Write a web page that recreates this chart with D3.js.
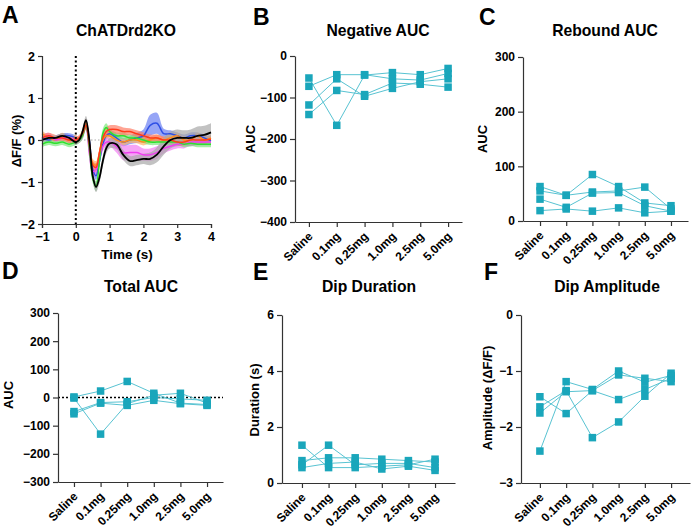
<!DOCTYPE html>
<html><head><meta charset="utf-8">
<script src="https://cdn.jsdelivr.net/npm/d3@7"></script>
<style>
body{margin:0;background:#fff;}
text{font-family:"Liberation Sans",Arial,sans-serif;font-weight:bold;fill:#000;}
</style></head>
<body><svg id="c" width="692" height="532"></svg>
<script>
// ---------- DATA ----------
const categories = ["Saline","0.1mg","0.25mg","1.0mg","2.5mg","5.0mg"];
// each inner array = one animal across doses
const negativeAUC = [
  [-53,-167,-46,-40,-45,-30],
  [-73,-45,-45,-55,-58,-42],
  [-118,-55,-97,-78,-62,-55],
  [-141,-83,-93,-65,-68,-75]
];
const reboundAUC = [
  [63,47,85,63,33,28],
  [55,47,53,55,62,22],
  [40,25,51,52,28,18],
  [19,22,18,24,15,18]
];
const totalAUC = [
  [-2,-130,-22,8,15,-20],
  [2,23,57,15,-20,-25],
  [-50,-18,-15,0,-5,-10],
  [-58,-20,-28,-10,-22,-28]
];
const dipDuration = [
  [1.35,0.55,0.55,0.6,0.65,0.85],
  [0.65,1.35,0.65,0.7,0.7,0.55],
  [0.8,0.9,0.9,0.85,0.8,0.75],
  [0.55,0.7,0.75,0.5,0.6,0.45]
];
const dipAmplitude = [
  [-2.43,-1.19,-1.33,-1.0,-1.2,-1.08],
  [-1.46,-1.76,-1.35,-1.51,-1.33,-1.13],
  [-1.64,-1.35,-2.19,-1.91,-1.45,-1.04],
  [-1.75,-1.37,-1.35,-1.07,-1.13,-1.19]
];
const yTicksNeg = [0,-100,-200,-300,-400];
const yTicksReb = [0,100,200,300];
const yTicksTot = [-300,-200,-100,0,100,200,300];
const yTicksDur = [0,2,4,6];
const yTicksAmp = [-3,-2,-1,0];

// Panel A photometry traces
const time = [-1,-0.8,-0.6,-0.4,-0.2,0,0.1,0.2,0.3,0.4,0.5,0.6,0.7,0.8,0.9,1.0,1.2,1.4,1.6,1.8,2.0,2.2,2.4,2.6,2.8,3.0,3.2,3.4,3.6,3.8,4.0];
const traceBlue    = [0.05,0.0,0.05,0.1,0.1,0.05,0.0,0.15,0.4,0.0,-0.7,-0.85,-0.5,-0.1,0.1,0.15,0.05,-0.05,0.0,0.05,0.1,0.35,0.4,0.15,0.15,0.1,0.05,0.1,0.1,0.05,-0.02];
const semBlue      = [0.06,0.06,0.06,0.06,0.06,0.06,0.06,0.08,0.1,0.1,0.1,0.1,0.1,0.1,0.08,0.08,0.1,0.1,0.1,0.12,0.15,0.25,0.25,0.12,0.08,0.08,0.08,0.08,0.08,0.08,0.08];
const traceRed     = [0.05,0.1,0.05,0.05,0.0,0.0,0.05,0.15,0.35,-0.1,-0.6,-0.65,-0.3,0.05,0.2,0.25,0.25,0.2,0.2,0.15,0.1,0.05,0.05,0.0,0.0,-0.05,-0.05,0.0,0.0,0.0,0.02];
const semRed       = [0.07,0.07,0.07,0.07,0.07,0.07,0.07,0.08,0.1,0.1,0.1,0.1,0.1,0.1,0.1,0.1,0.1,0.1,0.08,0.08,0.08,0.08,0.08,0.08,0.08,0.08,0.08,0.08,0.08,0.08,0.08];
const traceGreen   = [-0.1,-0.05,-0.08,-0.05,-0.1,-0.05,0.0,0.1,0.35,-0.2,-0.9,-1.1,-0.5,0.15,0.3,0.2,0.1,0.1,0.05,0.05,0.0,-0.05,-0.05,-0.05,-0.05,-0.05,-0.1,-0.08,-0.1,-0.1,-0.1];
const semGreen     = [0.07,0.07,0.07,0.07,0.07,0.07,0.07,0.08,0.1,0.12,0.12,0.12,0.12,0.12,0.1,0.08,0.08,0.08,0.08,0.07,0.07,0.07,0.07,0.07,0.07,0.07,0.07,0.07,0.07,0.07,0.07];
const traceMagenta = [0.05,0.1,0.0,0.05,0.05,0.0,0.0,0.1,0.35,-0.3,-0.75,-0.7,-0.4,-0.15,-0.05,-0.05,-0.15,-0.3,-0.3,-0.3,-0.35,-0.35,-0.3,-0.2,-0.15,-0.1,-0.1,-0.05,-0.05,-0.05,-0.05];
const semMagenta   = [0.07,0.07,0.07,0.07,0.07,0.07,0.07,0.08,0.1,0.12,0.12,0.12,0.12,0.12,0.1,0.1,0.15,0.18,0.18,0.18,0.15,0.15,0.15,0.12,0.1,0.1,0.1,0.08,0.08,0.08,0.08];
const traceOrange  = [0.15,0.05,0.0,0.1,0.0,0.05,0.0,0.2,0.4,-0.1,-0.55,-0.6,-0.3,0.0,0.1,0.1,0.0,-0.05,0.0,0.0,-0.05,0.0,0.05,0.0,0.05,0.1,0.0,0.0,0.1,0.0,0.05];
const semOrange    = [0.07,0.07,0.07,0.07,0.07,0.07,0.07,0.08,0.1,0.1,0.1,0.1,0.1,0.1,0.08,0.08,0.08,0.08,0.08,0.08,0.08,0.08,0.08,0.08,0.08,0.08,0.08,0.08,0.08,0.08,0.08];
const traceBlack   = [0.0,0.05,0.05,0.1,0.05,-0.05,0.0,0.2,0.47,0.0,-0.85,-1.12,-0.9,-0.5,-0.2,-0.08,-0.1,-0.35,-0.5,-0.48,-0.45,-0.45,-0.35,-0.15,0.0,0.05,0.05,0.05,0.1,0.12,0.18];
const semBlack     = [0.06,0.06,0.06,0.06,0.06,0.06,0.06,0.08,0.1,0.12,0.12,0.12,0.12,0.12,0.12,0.12,0.12,0.12,0.12,0.12,0.12,0.15,0.18,0.2,0.2,0.2,0.18,0.2,0.22,0.22,0.22];
const timeTicks = [-1,0,1,2,3,4];
const dffTicks = [-2,-1,0,1,2];

// ---------- DRAW ----------
const svg = d3.select("#c");
const teal = "#1aa6bb", tealLine = "#58c3d2", axisCol = "#333";

function styleAxis(g,size){
  g.selectAll("path.domain").attr("stroke",axisCol).attr("stroke-width",1.2);
  g.selectAll(".tick line").attr("stroke",axisCol).attr("stroke-width",1.2);
  g.selectAll(".tick text").style("font-family","'Liberation Sans',Arial,sans-serif").style("font-weight","bold").style("font-size",(size||12)+"px").attr("fill","#000");
}

function letter(t,x,y){ svg.append("text").attr("x",x).attr("y",y).style("font-size","23px").text(t); }
function title(t,x,y){ svg.append("text").attr("x",x).attr("y",y).attr("text-anchor","middle").style("font-size","15.7px").text(t); }
function ylabel(t,x,y){ svg.append("text").attr("transform",`translate(${x},${y}) rotate(-90)`).attr("text-anchor","middle").style("font-size","13px").text(t); }

// ---- Panel A ----
(function(){
  const x = d3.scaleLinear().domain([-1,4]).range([42,211]);
  const y = d3.scaleLinear().domain([-2,2]).range([224,56]);
  const g = svg.append("g");
  g.append("line").attr("x1",x(-1)).attr("x2",x(4)).attr("y1",y(0)).attr("y2",y(0))
    .attr("stroke","#aaa").attr("stroke-width",1).attr("stroke-dasharray","1.5,2");
  const series = [
    {v:traceBlue,s:semBlue,c:"#2e4fe6",f:"#6a7ff2"},
    {v:traceOrange,s:semOrange,c:"#ff8c1a",f:"#ffb46b"},
    {v:traceMagenta,s:semMagenta,c:"#f03cf0",f:"#f27ef2"},
    {v:traceGreen,s:semGreen,c:"#2ee02e",f:"#7de87d"},
    {v:traceRed,s:semRed,c:"#ff3a1a",f:"#ff7d66"},
    {v:traceBlack,s:semBlack,c:"#000",f:"#a8a8a8"}
  ];
  const curve = d3.curveCatmullRom.alpha(0.5);
  series.forEach(sr=>{
    const area = d3.area().x((d,i)=>x(time[i])).y0((d,i)=>y(sr.v[i]-sr.s[i])).y1((d,i)=>y(sr.v[i]+sr.s[i])).curve(curve);
    g.append("path").attr("d",area(sr.v)).attr("fill",sr.f).attr("opacity",0.7);
  });
  series.forEach(sr=>{
    const line = d3.line().x((d,i)=>x(time[i])).y(d=>y(d)).curve(curve);
    g.append("path").attr("d",line(sr.v)).attr("fill","none").attr("stroke",sr.c).attr("stroke-width",sr.c==="#000"?1.8:1.5);
  });
  g.append("line").attr("x1",x(0)).attr("x2",x(0)).attr("y1",y(2)).attr("y2",y(-2))
    .attr("stroke","#000").attr("stroke-width",2).attr("stroke-dasharray","2,2.5");
  const ax = g.append("g").attr("transform",`translate(0,${y(-2)})`).call(d3.axisBottom(x).tickValues(timeTicks).tickSizeOuter(0).tickSize(4).tickPadding(4).tickFormat(d3.format("d")));
  styleAxis(ax,12.5);
  const ay = g.append("g").attr("transform",`translate(${x(-1)},0)`).call(d3.axisLeft(y).tickValues(dffTicks).tickSizeOuter(0).tickSize(4).tickPadding(3).tickFormat(d3.format("d")));
  styleAxis(ay,12.5);
  letter("A",2,23);
  title("ChATDrd2KO",126,36);
  ylabel("ΔF/F (%)",21,141);
  svg.append("text").attr("x",127).attr("y",259).attr("text-anchor","middle").style("font-size","13.5px").text("Time (s)");
})();

// ---- Dose panels ----
function dosePanel(cfg){
  const x = d3.scalePoint().domain(categories).range([cfg.x0,cfg.x1]).padding(cfg.pad);
  const y = d3.scaleLinear().domain(cfg.domain).range([cfg.yb,cfg.yt]);
  const g = svg.append("g");
  if(cfg.zero){
    g.append("line").attr("x1",cfg.x0).attr("x2",cfg.x1).attr("y1",y(0)).attr("y2",y(0))
      .attr("stroke","#000").attr("stroke-width",1.5).attr("stroke-dasharray","2,2");
  }
  const ax = g.append("g").attr("transform",`translate(0,${cfg.yb})`).call(d3.axisBottom(x).tickSize(5).tickSizeOuter(0).tickPadding(4));
  styleAxis(ax,12);
  ax.selectAll(".tick text").attr("text-anchor","end").attr("x",0).attr("y",0).attr("dy","0.35em")
    .attr("transform","translate(1,12) rotate(-45)");
  const ay = g.append("g").attr("transform",`translate(${cfg.x0},0)`).call(d3.axisLeft(y).tickValues(cfg.ticks).tickSize(5).tickSizeOuter(0).tickPadding(3).tickFormat(d3.format("d")));
  styleAxis(ay,12);
  const line = d3.line().x((d,i)=>x(categories[i])).y(d=>y(d));
  cfg.data.forEach(row=>{
    g.append("path").attr("d",line(row)).attr("fill","none").attr("stroke",tealLine).attr("stroke-width",1);
  });
  cfg.data.forEach(row=>{
    g.selectAll(null).data(row).enter().append("rect")
      .attr("x",(d,i)=>x(categories[i])-3.75).attr("y",d=>y(d)-3.75)
      .attr("width",7.5).attr("height",7.5).attr("fill",teal);
  });
  letter(cfg.letter,cfg.lx,cfg.ly);
  title(cfg.title,cfg.tx,cfg.ty);
  ylabel(cfg.ylabel,cfg.ylx,cfg.yly);
}

dosePanel({data:negativeAUC,domain:[-400,0],ticks:yTicksNeg,x0:295,x1:462,pad:0.5,yb:222,yt:56,
  letter:"B",lx:253,ly:25,title:"Negative AUC",tx:378,ty:36,ylabel:"AUC",ylx:255,yly:139});
dosePanel({data:reboundAUC,domain:[0,300],ticks:yTicksReb,x0:523,x1:688,pad:0.65,yb:221,yt:57,
  letter:"C",lx:479,ly:25,title:"Rebound AUC",tx:605,ty:36,ylabel:"AUC",ylx:487,yly:139});
dosePanel({data:totalAUC,domain:[-300,300],ticks:yTicksTot,x0:58,x1:223,pad:0.6,yb:482,yt:313,zero:true,
  letter:"D",lx:2,ly:279,title:"Total AUC",tx:141,ty:292,ylabel:"AUC",ylx:13,yly:395});
dosePanel({data:dipDuration,domain:[0,6],ticks:yTicksDur,x0:282,x1:455,pad:0.75,yb:483,yt:315,
  letter:"E",lx:253,ly:280,title:"Dip Duration",tx:369,ty:292,ylabel:"Duration (s)",ylx:259,yly:400});
dosePanel({data:dipAmplitude,domain:[-3,0],ticks:yTicksAmp,x0:521,x1:690,pad:0.72,yb:483,yt:315,
  letter:"F",lx:484,ly:280,title:"Dip Amplitude",tx:607,ty:292,ylabel:"Amplitude (ΔF/F)",ylx:492,yly:398});
</script></body></html>
